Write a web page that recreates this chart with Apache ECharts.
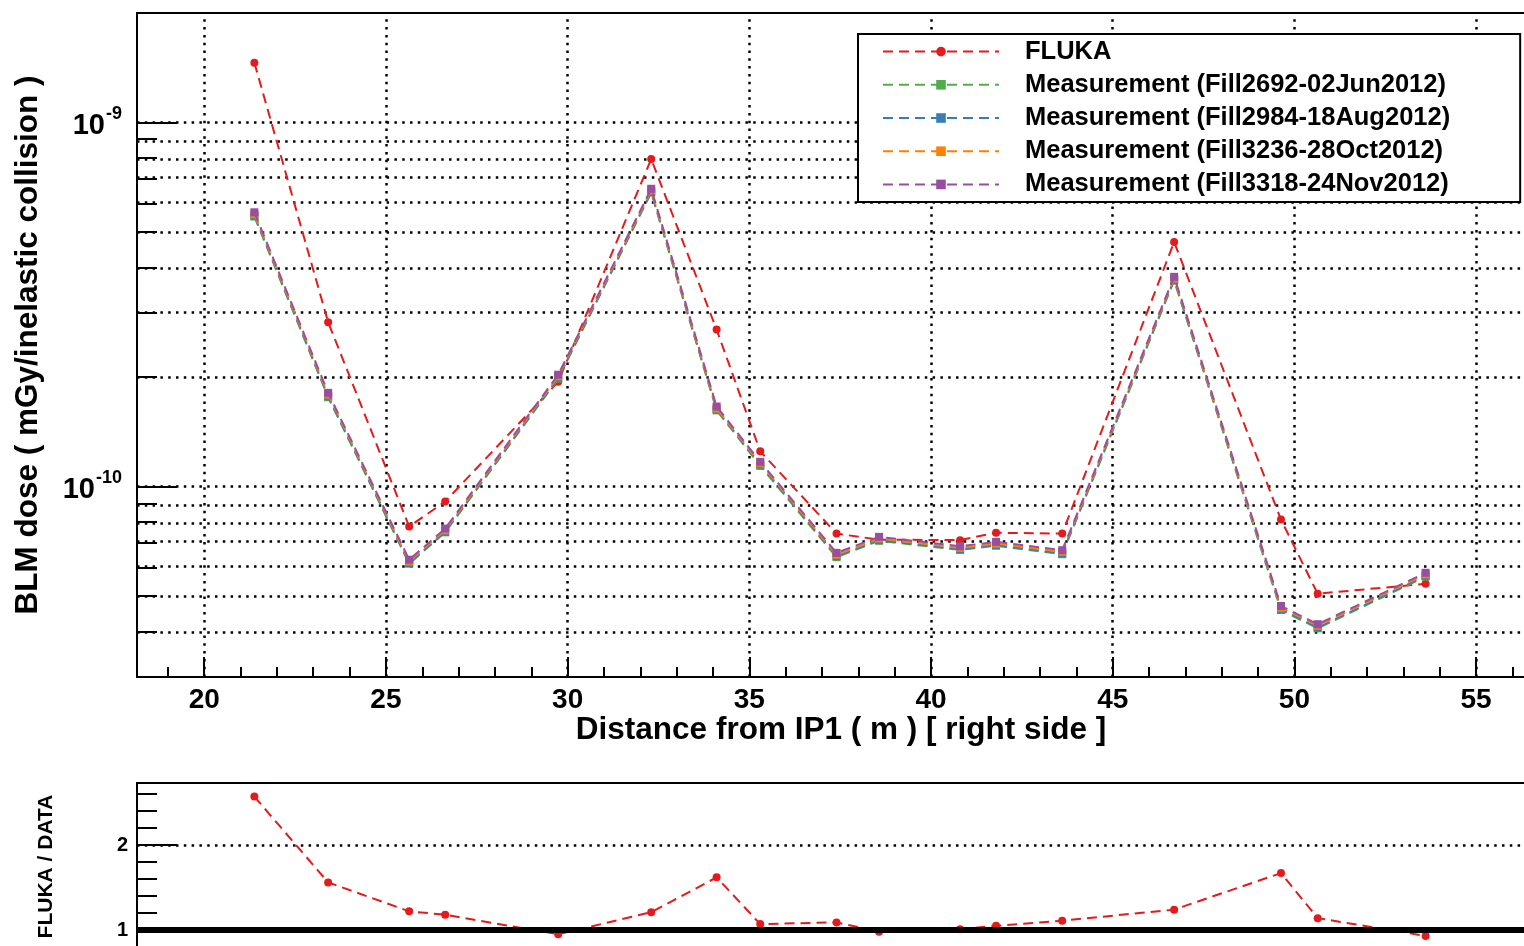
<!DOCTYPE html>
<html>
<head>
<meta charset="utf-8">
<title>BLM dose vs distance from IP1</title>
<script src="https://cdn.jsdelivr.net/npm/echarts@6/dist/echarts.min.js"></script>
<style>
  html, body { margin: 0; padding: 0; background: #fff; }
  #chart { width: 1524px; height: 946px; }
</style>
</head>
<body>
<div id="chart"></div>
<script>
// positions of the BLMs (m from IP1)
const distance = [21.38, 23.41, 25.64, 26.63, 29.74, 32.30, 34.10, 35.30, 37.40, 38.57, 40.80, 41.79, 43.61, 46.69, 49.63, 50.64, 53.61];

// dose in mGy per inelastic collision
const fluka    = [1.46e-9, 2.83e-10, 7.77e-11, 9.10e-11, 1.94e-10, 7.94e-10, 2.70e-10, 1.25e-10, 7.43e-11, 7.15e-11, 7.13e-11, 7.47e-11, 7.43e-11, 4.70e-10, 8.12e-11, 5.08e-11, 5.41e-11];
const fill2692 = [5.52e-10, 1.76e-10, 6.14e-11, 7.49e-11, 1.98e-10, 6.42e-10, 1.62e-10, 1.14e-10, 6.40e-11, 7.10e-11, 6.70e-11, 6.88e-11, 6.52e-11, 3.68e-10, 4.58e-11, 4.08e-11, 5.66e-11];
const fill2984 = [5.55e-10, 1.77e-10, 6.17e-11, 7.52e-11, 1.99e-10, 6.45e-10, 1.63e-10, 1.15e-10, 6.44e-11, 7.13e-11, 6.73e-11, 6.91e-11, 6.55e-11, 3.70e-10, 4.61e-11, 4.10e-11, 5.69e-11];
const fill3236 = [5.60e-10, 1.79e-10, 6.23e-11, 7.59e-11, 2.01e-10, 6.51e-10, 1.64e-10, 1.16e-10, 6.50e-11, 7.20e-11, 6.79e-11, 6.97e-11, 6.62e-11, 3.73e-10, 4.65e-11, 4.15e-11, 5.74e-11];
const fill3318 = [5.67e-10, 1.81e-10, 6.30e-11, 7.67e-11, 2.03e-10, 6.58e-10, 1.66e-10, 1.17e-10, 6.58e-11, 7.28e-11, 6.86e-11, 7.05e-11, 6.69e-11, 3.77e-10, 4.70e-11, 4.19e-11, 5.80e-11];

// FLUKA / DATA
const ratio = [2.57, 1.56, 1.22, 1.18, 0.95, 1.21, 1.62, 1.07, 1.09, 0.98, 1.01, 1.05, 1.11, 1.24, 1.67, 1.14, 0.93];

const seriesNames = [
  'FLUKA',
  'Measurement (Fill2692-02Jun2012)',
  'Measurement (Fill2984-18Aug2012)',
  'Measurement (Fill3236-28Oct2012)',
  'Measurement (Fill3318-24Nov2012)'
];

// tick labels / tick positions
const xMajorTicks = [20, 25, 30, 35, 40, 45, 50, 55];
const xMinorTicks = [19, 21, 22, 23, 24, 26, 27, 28, 29, 31, 32, 33, 34, 36, 37, 38, 39, 41, 42, 43, 44, 46, 47, 48, 49, 51, 52, 53, 54, 56];
const doseDecades = [1e-10, 1e-9];
const doseMinorTicks = [4e-11, 5e-11, 6e-11, 7e-11, 8e-11, 9e-11, 2e-10, 3e-10, 4e-10, 5e-10, 6e-10, 7e-10, 8e-10, 9e-10];
const ratioMajorTicks = [1, 2];
const ratioMinorTicks = [1.2, 1.4, 1.6, 1.8, 2.2, 2.4, 2.6];

const xMin = 18.15, xMax = 56.4;
const doseMin = 3e-11, doseMax = 2e-9;
const ratioMin = 0.765, ratioMax = 2.73;

const FONT = "'Liberation Sans', Helvetica, Arial, sans-serif";
const colors = ['#e41a1c', '#4daf4a', '#377eb8', '#ff7f00', '#984ea3'];

const pairs = function (ys) {
  return distance.map(function (x, i) { return [x, ys[i]]; });
};

const black = { color: '#000', width: 2 };
const dotted = { color: '#000', width: 2.5, type: [2.5, 5.3] };

let myChart = echarts.init(document.getElementById('chart'));

let doseSeries = [fluka, fill2692, fill2984, fill3236, fill3318].map(function (ys, i) {
  return {
    name: seriesNames[i],
    type: 'line',
    xAxisIndex: 0,
    yAxisIndex: 0,
    data: pairs(ys),
    symbol: i === 0 ? 'circle' : 'rect',
    symbolSize: 8,
    color: colors[i],
    lineStyle: { color: colors[i], width: 2, type: [10, 6] },
    itemStyle: { color: colors[i] },
    z: 3 + i
  };
});

let option = {
  animation: false,
  backgroundColor: '#fff',
  textStyle: { fontFamily: FONT },
  grid: [
    { left: 137, right: -3, top: 13, height: 664, outerBoundsMode: 'none', containLabel: false,
      show: true, borderColor: '#000', borderWidth: 2, backgroundColor: 'transparent' },
    { left: 137, right: -3, top: 783, bottom: -4, outerBoundsMode: 'none', containLabel: false,
      show: true, borderColor: '#000', borderWidth: 2, backgroundColor: 'transparent' }
  ],
  legend: {
    orient: 'vertical',
    left: 858,
    top: 34,
    data: seriesNames,
    selectedMode: false,
    backgroundColor: '#fff',
    borderColor: '#000',
    borderWidth: 2,
    borderRadius: 0,
    padding: [1, 70, 1, 24],
    itemWidth: 116,
    itemHeight: 12,
    itemGap: 0,
    textStyle: {
      fontFamily: FONT, fontWeight: 'bold', fontSize: 25.5, color: '#000',
      lineHeight: 33.2, padding: [0, 0, 0, 21]
    }
  },
  xAxis: [
    {
      gridIndex: 0, type: 'value', min: xMin, max: xMax, position: 'bottom',
      name: 'Distance from IP1 ( m ) [ right side ]',
      nameLocation: 'middle', nameGap: 37, nameMoveOverlap: false,
      nameTextStyle: { fontFamily: FONT, fontWeight: 'bold', fontSize: 31.5, color: '#000', padding: [0, 0, 0, 18] },
      axisLine: { lineStyle: black },
      axisTick: { inside: true, length: 20, customValues: xMajorTicks, lineStyle: black },
      axisLabel: { customValues: xMajorTicks, fontFamily: FONT, fontWeight: 'bold', fontSize: 28, color: '#000', margin: 9 },
      splitLine: { show: false }
    },
    {
      gridIndex: 0, type: 'value', min: xMin, max: xMax, position: 'bottom',
      axisLine: { show: false },
      axisTick: { inside: true, length: 10, customValues: xMinorTicks, lineStyle: black },
      axisLabel: { show: false },
      splitLine: { show: false }
    },
    {
      gridIndex: 1, type: 'value', min: xMin, max: xMax, position: 'bottom',
      axisLine: { show: false }, axisTick: { show: false },
      axisLabel: { show: false }, splitLine: { show: false }
    }
  ],
  yAxis: [
    {
      gridIndex: 0, type: 'log', logBase: 10, min: doseMin, max: doseMax, position: 'left',
      name: 'BLM dose ( mGy/inelastic collision )',
      nameLocation: 'middle', nameRotate: 90, nameGap: 93,
      nameTextStyle: { fontFamily: FONT, fontWeight: 'bold', fontSize: 31.5, color: '#000' },
      axisLine: { lineStyle: black },
      axisTick: { show: false }, axisLabel: { show: false }, splitLine: { show: false }
    },
    {
      // decades, on the exponent scale of the log axis
      gridIndex: 0, type: 'value', min: Math.log10(doseMin), max: Math.log10(doseMax), position: 'left',
      axisLine: { show: false },
      axisTick: { inside: true, length: 40, customValues: doseDecades.map(Math.log10), lineStyle: black },
      axisLabel: {
        customValues: doseDecades.map(Math.log10),
        margin: 15,
        formatter: function (v) { return '{b|10}{s|' + Math.round(v) + '}'; },
        rich: {
          b: { fontFamily: FONT, fontWeight: 'bold', fontSize: 29, color: '#000', lineHeight: 36, verticalAlign: 'bottom' },
          s: { fontFamily: FONT, fontWeight: 'bold', fontSize: 18, color: '#000', lineHeight: 36, verticalAlign: 'top', padding: [0, 0, 0, 1] }
        }
      },
      splitLine: { show: false }
    },
    {
      gridIndex: 0, type: 'value', min: Math.log10(doseMin), max: Math.log10(doseMax), position: 'left',
      axisLine: { show: false },
      axisTick: { inside: true, length: 20, customValues: doseMinorTicks.map(Math.log10), lineStyle: black },
      axisLabel: { show: false }, splitLine: { show: false }
    },
    {
      gridIndex: 1, type: 'value', min: ratioMin, max: ratioMax, position: 'left',
      name: 'FLUKA / DATA',
      nameLocation: 'middle', nameRotate: 90, nameGap: 80,
      nameTextStyle: { fontFamily: FONT, fontWeight: 'bold', fontSize: 21, color: '#000' },
      axisLine: { lineStyle: black },
      axisTick: { inside: true, length: 40, customValues: ratioMajorTicks, lineStyle: black },
      axisLabel: { customValues: ratioMajorTicks, fontFamily: FONT, fontWeight: 'bold', fontSize: 20, color: '#000', margin: 9 },
      splitLine: { show: false }
    },
    {
      gridIndex: 1, type: 'value', min: ratioMin, max: ratioMax, position: 'left',
      axisLine: { show: false },
      axisTick: { inside: true, length: 20, customValues: ratioMinorTicks, lineStyle: black },
      axisLabel: { show: false }, splitLine: { show: false }
    }
  ],
  series: [
    {
      // dotted grid of the dose panel (horizontal lines on the exponent scale)
      name: 'grid-dose', type: 'line', xAxisIndex: 0, yAxisIndex: 1, data: [],
      markLine: {
        silent: true, z: 1, symbol: ['none', 'none'], label: { show: false },
        lineStyle: dotted, emphasis: { disabled: true },
        data: doseDecades.concat(doseMinorTicks).map(function (v) { return { yAxis: Math.log10(v) }; })
          .concat(xMajorTicks.map(function (v) { return { xAxis: v }; }))
      }
    },
    {
      name: 'grid-ratio', type: 'line', xAxisIndex: 2, yAxisIndex: 3, data: [],
      markLine: {
        silent: true, z: 1, symbol: ['none', 'none'], label: { show: false },
        lineStyle: dotted, emphasis: { disabled: true },
        data: [{ yAxis: 2 }]
      }
    }
  ].concat(doseSeries).concat([
    {
      name: 'FLUKA / DATA', type: 'line', xAxisIndex: 2, yAxisIndex: 3,
      data: pairs(ratio),
      symbol: 'circle', symbolSize: 8,
      color: colors[0],
      lineStyle: { color: colors[0], width: 2, type: [10, 6] },
      itemStyle: { color: colors[0] },
      markLine: {
        silent: true, symbol: ['none', 'none'], label: { show: false },
        lineStyle: { color: '#000', width: 6, type: 'solid' }, emphasis: { disabled: true },
        data: [{ yAxis: 1 }]
      }
    }
  ])
};

myChart.setOption(option);
</script>
</body>
</html>
